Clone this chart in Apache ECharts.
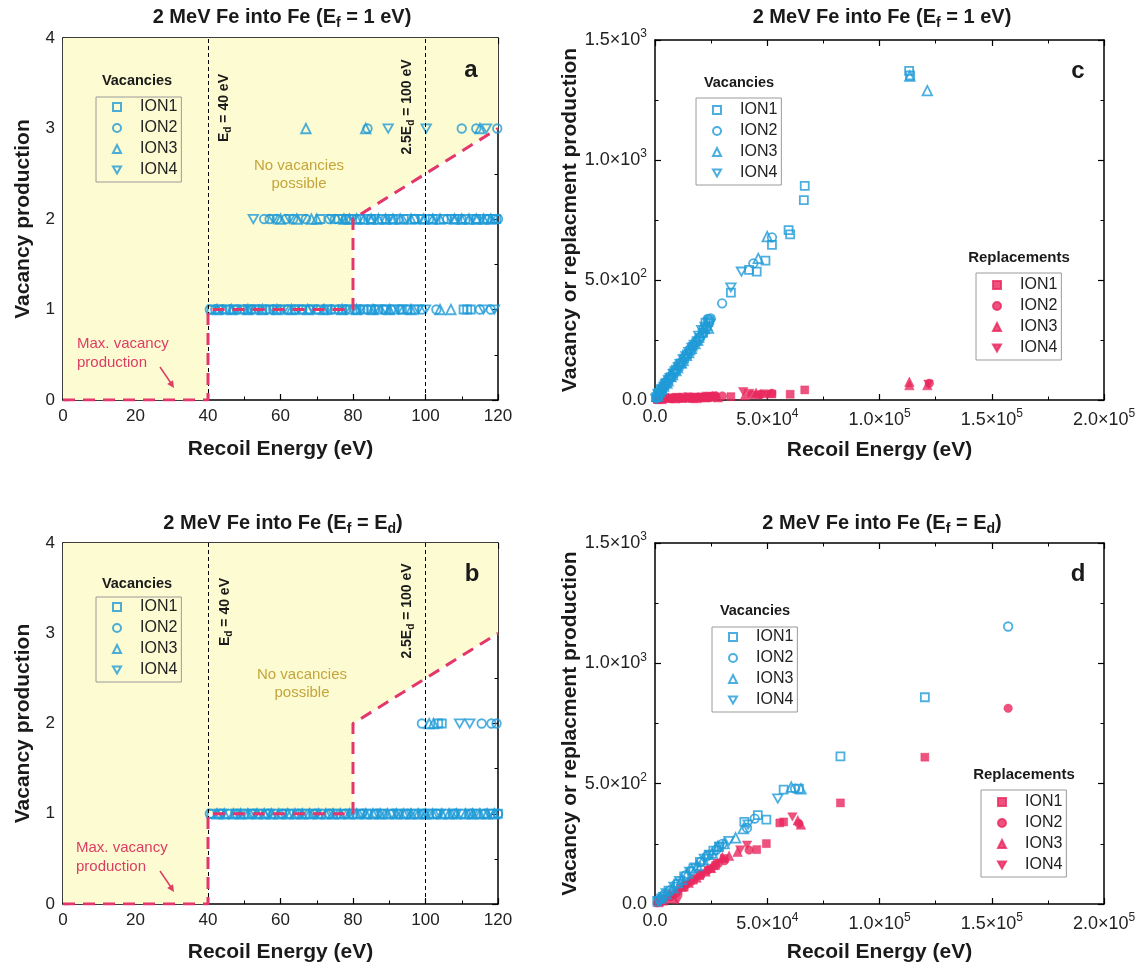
<!DOCTYPE html>
<html><head><meta charset="utf-8">
<script src="https://cdn.jsdelivr.net/npm/echarts@6/dist/echarts.min.js"></script>
<style>html,body{margin:0;padding:0;background:#fff}#c{width:1143px;height:970px}</style>
</head><body><div id="c"></div>
<script>
// ---------------- DATA ----------------
// Maximum vacancy production boundary (panels a, b)
const maxVacLine = [[0,0],[40,0],[40,1],[80,1],[80,2],[120,3]];
const thresholdLines = [40, 100];

// Panel a: 2 MeV Fe into Fe (Ef = 1 eV) - vacancies
const aION1 = [[41,1],[43,1],[45,1],[47,1],[49.5,1],[51,1],[53,1],[55,1],[57,1],[59,1],[62,1],[64,1],[66,1],[68,1],[70.5,1],[73,1],[75,1],[77,1],[79,1],[81,1],[83,1],[85,1],[87,1],[89,1],[91.5,1],[93.5,1],[95,1],[97,1],[110.5,1],[111.5,1],[112.5,1],
  [71,2],[76,2],[79,2],[82,2],[85,2],[88,2],[91,2],[94,2],[97,2],[99,2],[102,2],[105,2],[108,2],[111,2],[114,2],[117,2],[118.5,2],[119.5,2]];
const aION2 = [[40.5,1],[42,1],[44,1],[46,1],[48,1],[50,1],[52,1],[54,1],[56,1],[58,1],[60,1],[62,1],[64,1],[66,1],[68,1],[70,1],[72,1],[74,1],[76,1],[78,1],[80.5,1],[82,1],[84,1],[86,1],[88.5,1],[90.5,1],[93,1],[95,1],[99,1],[103,1],[115,1],[118,1],
  [55.5,2],[57,2],[59,2],[61.5,2],[63.5,2],[67,2],[73.5,2],[75,2],[78,2],[81,2],[85,2],[89,2],[92.5,2],[97,2],[101,2],[106,2],[110,2],[114,2],[117,2],[120,2],
  [84,3],[110,3],[114,3],[119.8,3]];
const aION3 = [[42.5,1],[46.5,1],[51,1],[55,1],[59,1],[63,1],[67.5,1],[72,1],[77,1],[81,1],[85.5,1],[90,1],[96,1],[104,1],[107,1],
  [60,2],[64.5,2],[68.5,2],[70,2],[77.5,2],[79,2],[81,2],[83,2],[85,2],[87,2],[89,2],[91,2],[93,2],[96,2],[99.5,2],[102,2],[104,2],[108,2],[110,2],[112,2],[114,2],[116,2],[118,2],
  [67,3],[83.5,3],[115,3]];
const aION4 = [[43.5,1],[47.5,1],[51.5,1],[54,1],[58,1],[61,1],[65,1],[69,1],[73,1],[78,1],[82,1],[86,1],[89,1],[92.5,1],[98,1],[100,1],[116,1],[119,1],
  [52.5,2],[58,2],[62.5,2],[66,2],[74,2],[77,2],[80,2],[84,2],[86,2],[90,2],[95,2],[98.5,2],[103,2],[107,2],[109,2],[113,2],[115.5,2],
  [89.7,3],[100.2,3],[116.8,3]];

// Panel b: 2 MeV Fe into Fe (Ef = Ed) - vacancies
const bION1 = [[41,1],[43,1],[45.5,1],[47.5,1],[50,1],[52,1],[54,1],[56,1],[58,1],[60.5,1],[62.5,1],[64.5,1],[67,1],[69,1],[71,1],[73.5,1],[75.5,1],[77.5,1],[80,1],[82,1],[84,1],[86,1],[88,1],[90.5,1],[92.5,1],[94.5,1],[97,1],[99,1],[101,1],[103,1],[105.5,1],[107.5,1],[110,1],[112,1],[114,1],[116,1],[118.5,1],[120,1],
  [103.5,2],[104.5,2]];
const bION2 = [[40.5,1],[43.5,1],[48,1],[52.5,1],[56.5,1],[60.5,1],[65,1],[69.5,1],[73.5,1],[78,1],[82.5,1],[86.5,1],[91,1],[95,1],[99.5,1],[103,1],[108,1],[112.5,1],[116.5,1],[120,1],
  [99,2],[115.5,2],[118.2,2],[119.6,2]];
const bION3 = [[42.5,1],[44.5,1],[47,1],[49,1],[51,1],[53.5,1],[55.5,1],[57.5,1],[59.5,1],[62,1],[64,1],[66,1],[68,1],[70.5,1],[72.5,1],[74.5,1],[76.5,1],[79,1],[81,1],[83.5,1],[85.5,1],[87.5,1],[89.5,1],[92,1],[94,1],[96,1],[98,1],[100,1],[102,1],[104.5,1],[106.5,1],[108.5,1],[111,1],[113,1],[115,1],[117,1],[119,1],
  [101,2],[102.2,2]];
const bION4 = [[44,1],[49,1],[53,1],[57,1],[61.5,1],[66,1],[70,1],[74.5,1],[79,1],[83,1],[87.5,1],[92,1],[96,1],[100,1],[104,1],[108.5,1],[113,1],[117.5,1],
  [109.4,2],[112.2,2]];

// Panel c: (Ef = 1 eV) vacancies
const cVac1 = [[66700,892],[66300,833],[59500,708],[60200,690],[52100,646],[49200,581],[45300,535],[41900,542],[33800,447],[113200,1371],[113600,1352],
  [500,12],[1200,22],[1900,30],[2500,40],[3300,48],[4200,62],[5000,72],[6000,85],[7000,95],[8200,112],[9300,126],[10500,140],[11500,152],[13000,172],[14200,190],[15800,206],[16800,222],[18500,245],[19800,258],[21200,280],[22500,322],[23800,325],[24200,333]];
const cVac2 = [[52100,678],[43800,569],[29900,403],[23500,338],[700,8],[1800,30],[2800,41],[3500,52],[4500,60],[5200,74],[6500,90],[7400,100],[8600,113],[9600,128],[11000,148],[12000,160],[13300,178],[14500,192],[15600,211],[17200,228],[18000,240],[19200,254],[20000,262],[21800,300],[24800,340]];
const cVac3 = [[50000,681],[46000,590],[121300,1289],[113500,1350],[800,15],[1300,20],[2200,35],[3100,44],[3800,58],[5300,70],[5800,80],[7100,98],[7800,106],[9300,122],[10000,135],[11800,155],[12500,165],[14000,186],[15000,198],[16200,215],[17800,235],[19000,250],[21000,285],[22000,298],[23000,310],[23800,300]];
const cVac4 = [[38500,535],[33800,469],[24500,318],[19500,268],[400,5],[1500,25],[2000,28],[3000,45],[4100,55],[4800,68],[6100,82],[6800,92],[8200,108],[9000,120],[10400,136],[11200,150],[12600,170],[13800,182],[15100,200],[16500,218],[17600,230],[20800,292],[21800,270],[22300,305],[23200,290]];
// Panel c: replacements
const cRep1 = [[66700,42],[60200,24],[52100,25],[33800,14],[1000,3],[2500,5],[3800,10],[5000,6],[7500,9],[10000,8],[12500,7],[15000,9],[17500,12],[20000,10],[22500,8],[24000,12],[26000,14],[46000,21],[48500,26]];
const cRep2 = [[30000,17],[122200,70],[52000,28],[500,2],[2000,4],[4500,8],[8000,6],[11000,11],[14000,9],[16000,7],[19500,13],[22000,12],[24500,10],[26000,15],[27000,18],[47000,24],[43000,22]];
const cRep3 = [[113300,76],[113300,62],[121300,62],[45000,30],[1500,6],[3000,4],[6000,10],[9000,7],[12000,10],[13500,12],[17000,9],[18500,8],[21000,15],[23000,14],[25500,18],[28000,11],[40000,20]];
const cRep4 = [[39300,35],[121800,66],[2200,8],[4000,5],[6500,4],[7000,6],[9500,11],[11000,8],[14500,13],[16000,10],[19000,11],[20500,7],[23500,16],[25000,13],[26500,9],[42000,28],[50000,20]];

// Panel d: (Ef = Ed) vacancies
const dVac1 = [[120200,859],[82600,613],[64100,479],[57300,475],[49600,351],[45800,369],[39800,341],[1000,10],[3400,30],[6000,55],[10300,86],[13000,115],[17100,148],[20000,175],[23900,203],[26000,222],[28500,238]];
const dVac2 = [[157300,1153],[62400,479],[44400,355],[41000,316],[2000,18],[4000,38],[6800,58],[9500,82],[13700,120],[16000,138],[20500,175],[23000,198],[27400,226],[30000,250]];
const dVac3 = [[60700,486],[39300,313],[35900,275],[30800,251],[2500,25],[5000,42],[8000,68],[12000,102],[14500,128],[18800,160],[21500,185],[25500,212],[28000,240],[65000,478]];
const dVac4 = [[54700,438],[41500,330],[33000,262],[1500,12],[3000,22],[5000,45],[8500,72],[11000,95],[15500,134],[18000,152],[22000,188],[24500,205],[29000,238]];
// Panel d: replacements
const dRep1 = [[120200,610],[82600,420],[57300,341],[55600,337],[49600,251],[45300,226],[2000,8],[3400,14],[7500,40],[10300,51],[13000,70],[17100,99],[20000,118],[24800,148],[27000,160],[30800,189]];
const dRep2 = [[157300,813],[64100,334],[41900,224],[1000,5],[5000,18],[6800,30],[9500,45],[13700,79],[16000,92],[20500,120],[23500,140],[28200,168],[31000,180]];
const dRep3 = [[63600,348],[36800,217],[30000,195],[1500,8],[3500,15],[6000,35],[8500,23],[12000,72],[15000,88],[18500,110],[22500,135],[25000,150],[26000,162],[33000,200],[65000,330]];
const dRep4 = [[61200,362],[41000,245],[38000,225],[2500,12],[4500,20],[7000,30],[10000,15],[11500,62],[14000,80],[18500,105],[21000,125],[24000,140],[28000,170]];

// Tick labels
const abXTicks = ['0','20','40','60','80','100','120'];
const abYTicks = ['0','1','2','3','4'];
const cdXTicks = ['0.0','5.0×10{sup|4}','1.0×10{sup|5}','1.5×10{sup|5}','2.0×10{sup|5}'];
const cdYTicks = ['0.0','5.0×10{sup|2}','1.0×10{sup|3}','1.5×10{sup|3}'];
const ionNames = ['ION1','ION2','ION3','ION4'];

// ---------------- STYLE ----------------
const FONT = '"Liberation Sans", Arial, Helvetica, sans-serif';
const BLUE = '#1f9bd7', RED = '#e8285e', DASHRED = '#e3366b', YELLOW = '#fdfbd2';
const TXT = '#1a1a1a';
const SYMS = ['rect','circle','triangle','path://M0,0L10,0L5,8.66Z'];
const SIZES = [8, 8.5, 9.5, 9.5];

function axisPair(dim, gi, min, max, interval, labels, fs, name, nameGap) {
  const base = {
    gridIndex: gi, type: 'value', min, max, interval,
    splitLine: {show: false},
    axisLine: {show: true, onZero: false, lineStyle: {color: '#000', width: 1.5}},
    axisTick: {show: true, inside: true, length: 6, lineStyle: {color: '#000', width: 1.2}},
    minorTick: {show: true, splitNumber: 2, length: 3.5, lineStyle: {color: '#000', width: 1}},
    minorSplitLine: {show: false}
  };
  const main = Object.assign({}, base, {
    position: dim === 'x' ? 'bottom' : 'left',
    axisLabel: {show: true, margin: 8, fontSize: fs, fontFamily: FONT, color: '#222',
      formatter: v => labels[Math.round((v - min) / interval)],
      rich: {sup: {fontSize: 12, fontFamily: FONT, color: '#222', padding: [0, 0, 12, 0]}}},
    name: name, nameLocation: 'middle', nameGap: nameGap,
    nameTextStyle: {fontSize: 21, fontWeight: 'bold', fontFamily: FONT, color: TXT}
  });
  if (dim === 'y') main.nameRotate = 90;
  const mirror = Object.assign({}, base, {position: dim === 'x' ? 'top' : 'right', axisLabel: {show: false}});
  return [main, mirror];
}

const xAxis = [].concat(
  axisPair('x', 0, 0, 120, 20, abXTicks, 17, 'Recoil Energy (eV)', 39),
  axisPair('x', 1, 0, 200000, 50000, cdXTicks, 18, 'Recoil Energy (eV)', 40),
  axisPair('x', 2, 0, 120, 20, abXTicks, 17, 'Recoil Energy (eV)', 38),
  axisPair('x', 3, 0, 200000, 50000, cdXTicks, 18, 'Recoil Energy (eV)', 38)
);
const yAxis = [].concat(
  axisPair('y', 0, 0, 4, 1, abYTicks, 17, 'Vacancy production', 29),
  axisPair('y', 1, 0, 1500, 500, cdYTicks, 18, 'Vacancy or replacment production', 74),
  axisPair('y', 2, 0, 4, 1, abYTicks, 17, 'Vacancy production', 29),
  axisPair('y', 3, 0, 1500, 500, cdYTicks, 18, 'Vacancy or replacment production', 74)
);

function scat(prefix, k, data, gi, filled) {
  return {
    type: 'scatter', name: prefix + ':' + ionNames[k], xAxisIndex: 2 * gi, yAxisIndex: 2 * gi,
    data: data, symbol: SYMS[k], symbolSize: SIZES[k], symbolKeepAspect: true, z: 3,
    itemStyle: filled ? {color: RED, borderColor: RED, borderWidth: 0.5}
                      : {color: 'rgba(255,255,255,0)', borderColor: BLUE, borderWidth: 1.8}
  };
}
function boundary(gi) {
  return [
    {type: 'line', xAxisIndex: 2 * gi, yAxisIndex: 2 * gi, data: maxVacLine, symbol: 'none', silent: true, z: 1,
     lineStyle: {width: 0, opacity: 0}, areaStyle: {color: YELLOW, origin: 'end', opacity: 1},
     markLine: {silent: true, symbol: ['none', 'none'], label: {show: false},
       lineStyle: {color: '#000', width: 1, type: [4, 3]},
       data: thresholdLines.map(v => ({xAxis: v}))}},
    {type: 'line', xAxisIndex: 2 * gi, yAxisIndex: 2 * gi, data: maxVacLine, symbol: 'none', silent: true, z: 5,
     lineStyle: {color: DASHRED, width: 3, type: [12, 8]}}
  ];
}

const series = [].concat(
  boundary(0), boundary(2),
  [aION1, aION2, aION3, aION4].map((d, k) => scat('a', k, d, 0, false)),
  [bION1, bION2, bION3, bION4].map((d, k) => scat('b', k, d, 2, false)),
  [cRep1, cRep2, cRep3, cRep4].map((d, k) => scat('cR', k, d, 1, true)),
  [cVac1, cVac2, cVac3, cVac4].map((d, k) => scat('cV', k, d, 1, false)),
  [dRep1, dRep2, dRep3, dRep4].map((d, k) => scat('dR', k, d, 3, true)),
  [dVac1, dVac2, dVac3, dVac4].map((d, k) => scat('dV', k, d, 3, false))
);

function leg(prefix, left, top, padTop) {
  return {
    orient: 'vertical', left, top, data: ionNames.map(n => prefix + ':' + n),
    itemWidth: 8, itemHeight: 8, itemGap: 5, padding: [padTop, 4, 4, 16],
    symbolKeepAspect: true,
    borderColor: '#9a9a9a', borderWidth: 1, selectedMode: false,
    textStyle: {fontSize: 16, fontFamily: FONT, color: '#222', lineHeight: 16, padding: [0, 0, 0, 14]},
    formatter: n => n.split(':')[1]
  };
}
const legend = [
  leg('a', 96, 97, 2), leg('b', 96, 597, 2),
  leg('cV', 696, 98, 4), leg('cR', 976, 273, 4),
  leg('dV', 712, 627, 2), leg('dR', 981, 790, 4)
];

function txt(x, y, text, o) {
  o = o || {};
  return {type: 'text', x, y, rotation: o.rot || 0, z: 100, silent: true,
    style: {text, fontFamily: FONT, fontSize: o.fs || 16, fontWeight: o.fw || 'normal', fill: o.color || TXT,
      align: o.align || 'center', verticalAlign: 'middle', rich: o.rich}};
}
const subT = {s: {fontSize: 14, fontWeight: 'bold', fontFamily: FONT, fill: TXT, padding: [12, 0, 0, 0]}};
const subE = {s: {fontSize: 10, fontWeight: 'bold', fontFamily: FONT, fill: TXT, padding: [9, 0, 0, 0]}};
const RTXT = '#dc3d64', OTXT = '#c4a53c';
function arrow(dy) {
  return [
    {type: 'line', silent: true, z: 100, shape: {x1: 160, y1: 367 + dy, x2: 170.5, y2: 382.5 + dy}, style: {stroke: RTXT, lineWidth: 1.5}},
    {type: 'polygon', silent: true, z: 100, shape: {points: [[174, 388 + dy], [167.2, 384.1 + dy], [173, 380.3 + dy]]}, style: {fill: RTXT}}
  ];
}
const graphic = [
  txt(282, 17, '2 MeV Fe into Fe (E{s|f} = 1 eV)', {fs: 20, fw: 'bold', rich: subT}),
  txt(882, 17, '2 MeV Fe into Fe (E{s|f} = 1 eV)', {fs: 20, fw: 'bold', rich: subT}),
  txt(283, 523, '2 MeV Fe into Fe (E{s|f} = E{s|d})', {fs: 20, fw: 'bold', rich: subT}),
  txt(882, 523, '2 MeV Fe into Fe (E{s|f} = E{s|d})', {fs: 20, fw: 'bold', rich: subT}),
  txt(471, 70, 'a', {fs: 24, fw: 'bold'}), txt(472, 574, 'b', {fs: 24, fw: 'bold'}),
  txt(1078, 71, 'c', {fs: 24, fw: 'bold'}), txt(1078, 574, 'd', {fs: 24, fw: 'bold'}),
  txt(137, 81, 'Vacancies', {fs: 14.5, fw: 'bold'}), txt(137, 584, 'Vacancies', {fs: 14.5, fw: 'bold'}),
  txt(739, 83, 'Vacancies', {fs: 14.5, fw: 'bold'}), txt(755, 611, 'Vacancies', {fs: 14.5, fw: 'bold'}),
  txt(1019, 258, 'Replacements', {fs: 15, fw: 'bold'}), txt(1024, 775, 'Replacements', {fs: 15, fw: 'bold'}),
  txt(224, 108, 'E{s|d} = 40 eV', {fs: 14, fw: 'bold', rot: Math.PI / 2, rich: subE}),
  txt(225, 612, 'E{s|d} = 40 eV', {fs: 14, fw: 'bold', rot: Math.PI / 2, rich: subE}),
  txt(407, 107, '2.5E{s|d} = 100 eV', {fs: 14, fw: 'bold', rot: Math.PI / 2, rich: subE}),
  txt(407, 611, '2.5E{s|d} = 100 eV', {fs: 14, fw: 'bold', rot: Math.PI / 2, rich: subE}),
  txt(299, 166, 'No vacancies', {fs: 15, color: OTXT}), txt(299, 184, 'possible', {fs: 15, color: OTXT}),
  txt(302, 675, 'No vacancies', {fs: 15, color: OTXT}), txt(302, 693, 'possible', {fs: 15, color: OTXT}),
  txt(77, 344, 'Max. vacancy', {fs: 15, color: RTXT, align: 'left'}), txt(77, 363, 'production', {fs: 15, color: RTXT, align: 'left'}),
  txt(76, 848, 'Max. vacancy', {fs: 15, color: RTXT, align: 'left'}), txt(76, 867, 'production', {fs: 15, color: RTXT, align: 'left'})
].concat(arrow(0), arrow(504));

const chart = echarts.init(document.getElementById('c'), null, {renderer: 'canvas'});
chart.setOption({
  animation: false,
  backgroundColor: '#fff',
  grid: [
    {left: 63, top: 38, width: 435, height: 362},
    {left: 655, top: 40, width: 449, height: 360},
    {left: 63, top: 543, width: 435, height: 361},
    {left: 655, top: 543, width: 449, height: 361}
  ],
  xAxis, yAxis, series, legend, graphic
});
</script></body></html>
